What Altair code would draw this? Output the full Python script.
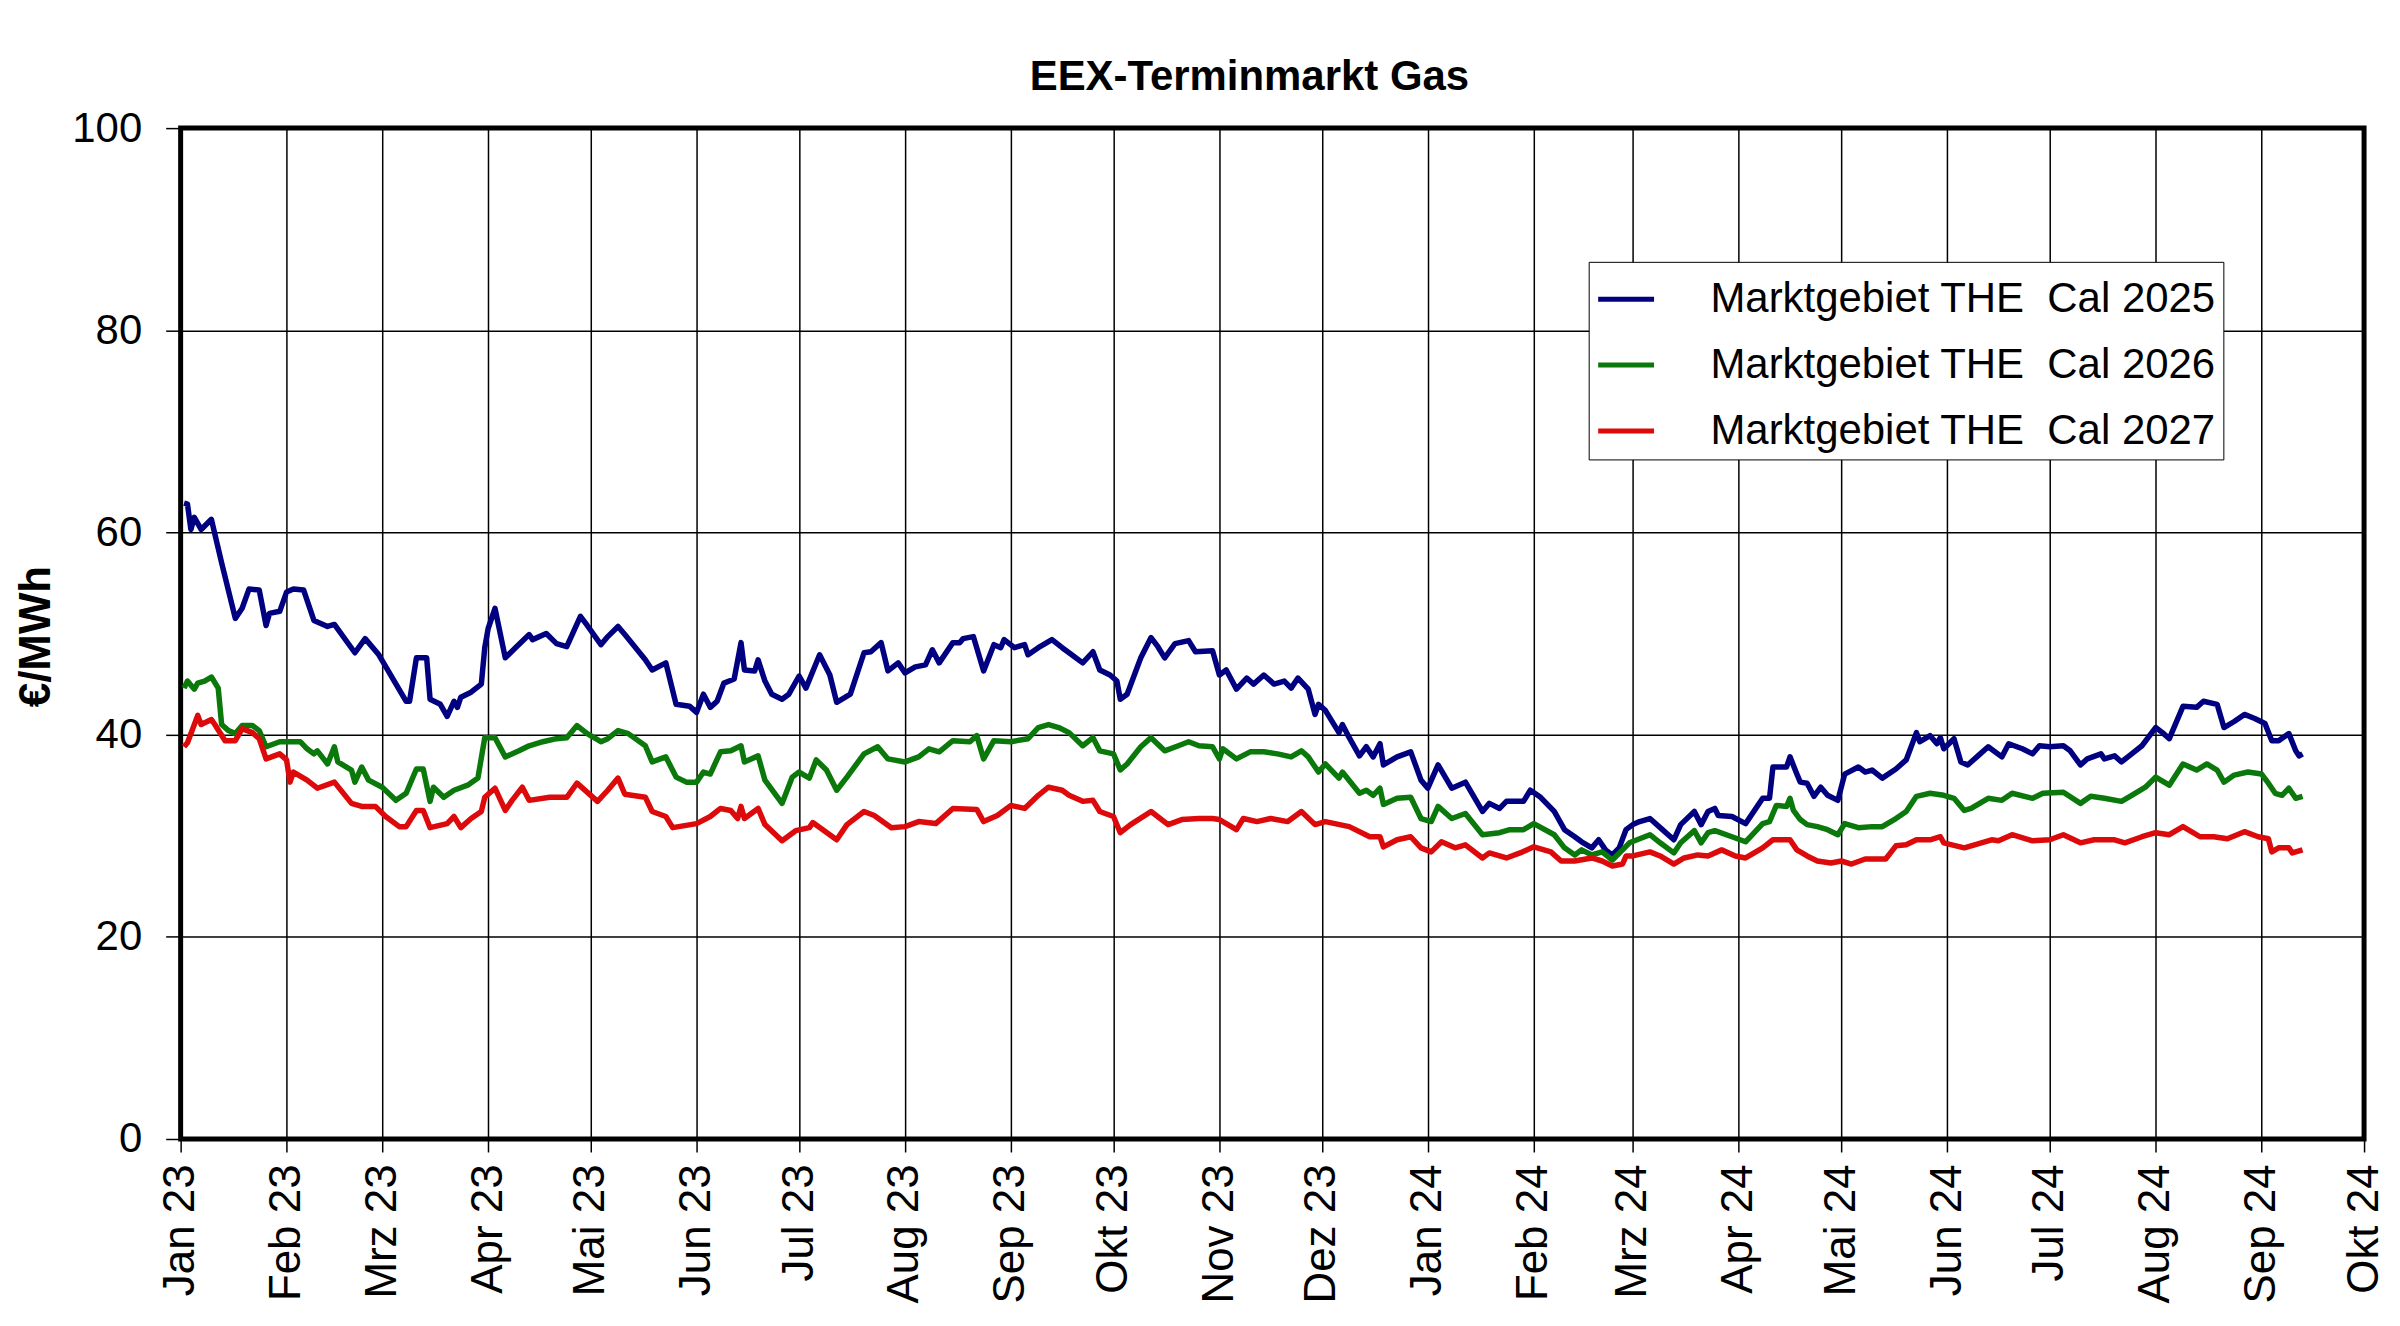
import altair as alt
import pandas as pd

TITLE = "EEX-Terminmarkt Gas"
Y_TITLE = "€/MWh"
SERIES_NAMES = [
    "Marktgebiet THE\u00a0 Cal 2025",
    "Marktgebiet THE\u00a0 Cal 2026",
    "Marktgebiet THE\u00a0 Cal 2027",
]
COLORS = ["#000080", "#0a780a", "#dc0a0a"]
MONTHS = ["Jan", "Feb", "Mrz", "Apr", "Mai", "Jun", "Jul", "Aug", "Sep", "Okt", "Nov", "Dez"]
Y_TICKS = [0, 20, 40, 60, 80, 100]

CAL2025 = [
    ("2023-01-02", 62.9), ("2023-01-03", 62.8), ("2023-01-04", 60.3), ("2023-01-05", 61.5),
    ("2023-01-07", 60.3), ("2023-01-10", 61.3), ("2023-01-13", 57.0), ("2023-01-17", 51.5),
    ("2023-01-19", 52.5), ("2023-01-21", 54.4), ("2023-01-24", 54.3), ("2023-01-26", 50.8),
    ("2023-01-27", 52.0), ("2023-01-30", 52.2), ("2023-02-01", 54.1), ("2023-02-03", 54.4),
    ("2023-02-06", 54.3), ("2023-02-09", 51.3), ("2023-02-13", 50.7), ("2023-02-15", 50.9),
    ("2023-02-21", 48.1), ("2023-02-24", 49.5), ("2023-02-28", 47.9), ("2023-03-08", 43.3),
    ("2023-03-09", 43.3), ("2023-03-11", 47.6), ("2023-03-14", 47.6), ("2023-03-15", 43.5),
    ("2023-03-18", 43.0), ("2023-03-20", 41.8), ("2023-03-22", 43.3), ("2023-03-23", 42.7),
    ("2023-03-24", 43.7), ("2023-03-27", 44.2), ("2023-03-30", 45.0), ("2023-03-31", 48.6),
    ("2023-04-01", 50.5), ("2023-04-03", 52.5), ("2023-04-06", 47.6), ("2023-04-09", 48.6),
    ("2023-04-13", 49.9), ("2023-04-14", 49.4), ("2023-04-18", 50.0), ("2023-04-21", 49.0),
    ("2023-04-24", 48.7), ("2023-04-28", 51.7), ("2023-04-30", 50.8), ("2023-05-04", 48.9),
    ("2023-05-06", 49.7), ("2023-05-09", 50.7), ("2023-05-11", 49.9), ("2023-05-17", 47.4),
    ("2023-05-19", 46.4), ("2023-05-23", 47.1), ("2023-05-26", 43.0), ("2023-05-30", 42.8),
    ("2023-06-01", 42.2), ("2023-06-03", 44.0), ("2023-06-05", 42.7), ("2023-06-07", 43.3),
    ("2023-06-09", 45.1), ("2023-06-12", 45.5), ("2023-06-14", 49.1), ("2023-06-15", 46.4),
    ("2023-06-18", 46.3), ("2023-06-19", 47.4), ("2023-06-21", 45.3), ("2023-06-23", 44.0),
    ("2023-06-26", 43.5), ("2023-06-28", 44.0), ("2023-07-01", 45.8), ("2023-07-03", 44.6),
    ("2023-07-07", 47.9), ("2023-07-10", 45.9), ("2023-07-12", 43.2), ("2023-07-16", 44.0),
    ("2023-07-20", 48.1), ("2023-07-22", 48.2), ("2023-07-25", 49.1), ("2023-07-27", 46.3),
    ("2023-07-30", 47.1), ("2023-08-01", 46.1), ("2023-08-04", 46.7), ("2023-08-07", 46.9),
    ("2023-08-09", 48.4), ("2023-08-11", 47.1), ("2023-08-15", 49.1), ("2023-08-17", 49.1),
    ("2023-08-18", 49.5), ("2023-08-21", 49.7), ("2023-08-24", 46.3), ("2023-08-27", 48.9),
    ("2023-08-29", 48.6), ("2023-08-30", 49.4), ("2023-09-02", 48.6), ("2023-09-05", 48.9),
    ("2023-09-06", 47.9), ("2023-09-09", 48.6), ("2023-09-13", 49.4), ("2023-09-16", 48.6),
    ("2023-09-18", 48.1), ("2023-09-22", 47.1), ("2023-09-25", 48.2), ("2023-09-27", 46.4),
    ("2023-09-30", 45.9), ("2023-10-02", 45.3), ("2023-10-03", 43.5), ("2023-10-05", 44.0),
    ("2023-10-09", 47.6), ("2023-10-12", 49.6), ("2023-10-14", 48.7), ("2023-10-16", 47.6),
    ("2023-10-19", 49.0), ("2023-10-23", 49.3), ("2023-10-25", 48.2), ("2023-10-30", 48.3),
    ("2023-11-01", 45.9), ("2023-11-03", 46.4), ("2023-11-06", 44.5), ("2023-11-09", 45.6),
    ("2023-11-11", 45.0), ("2023-11-14", 45.9), ("2023-11-17", 45.0), ("2023-11-20", 45.3),
    ("2023-11-22", 44.6), ("2023-11-24", 45.6), ("2023-11-27", 44.5), ("2023-11-29", 42.0),
    ("2023-11-30", 43.0), ("2023-12-02", 42.4), ("2023-12-06", 40.2), ("2023-12-07", 41.0),
    ("2023-12-09", 39.7), ("2023-12-12", 37.9), ("2023-12-14", 38.8), ("2023-12-16", 37.8),
    ("2023-12-18", 39.1), ("2023-12-19", 37.0), ("2023-12-23", 37.8), ("2023-12-27", 38.3),
    ("2023-12-30", 35.5), ("2024-01-01", 34.7), ("2024-01-04", 37.0), ("2024-01-08", 34.7),
    ("2024-01-12", 35.3), ("2024-01-17", 32.4), ("2024-01-19", 33.2), ("2024-01-22", 32.7),
    ("2024-01-24", 33.4), ("2024-01-29", 33.4), ("2024-01-31", 34.5), ("2024-02-03", 33.8),
    ("2024-02-07", 32.4), ("2024-02-10", 30.6), ("2024-02-13", 29.9), ("2024-02-15", 29.4),
    ("2024-02-18", 28.8), ("2024-02-20", 29.6), ("2024-02-22", 28.6), ("2024-02-24", 28.1),
    ("2024-02-26", 28.8), ("2024-02-28", 30.6), ("2024-03-01", 31.1), ("2024-03-03", 31.4),
    ("2024-03-06", 31.7), ("2024-03-09", 30.8), ("2024-03-13", 29.6), ("2024-03-15", 31.1),
    ("2024-03-19", 32.4), ("2024-03-21", 31.1), ("2024-03-23", 32.4), ("2024-03-25", 32.7),
    ("2024-03-26", 32.0), ("2024-03-30", 31.9), ("2024-04-03", 31.2), ("2024-04-08", 33.7),
    ("2024-04-10", 33.7), ("2024-04-11", 36.8), ("2024-04-15", 36.8), ("2024-04-16", 37.8),
    ("2024-04-18", 36.1), ("2024-04-19", 35.3), ("2024-04-21", 35.2), ("2024-04-23", 33.9),
    ("2024-04-25", 34.8), ("2024-04-27", 34.0), ("2024-04-30", 33.5), ("2024-05-02", 36.1),
    ("2024-05-06", 36.8), ("2024-05-08", 36.3), ("2024-05-10", 36.5), ("2024-05-13", 35.7),
    ("2024-05-17", 36.6), ("2024-05-20", 37.5), ("2024-05-23", 40.2), ("2024-05-24", 39.3),
    ("2024-05-27", 39.9), ("2024-05-29", 39.1), ("2024-05-30", 39.7), ("2024-05-31", 38.6),
    ("2024-06-03", 39.6), ("2024-06-05", 37.3), ("2024-06-07", 37.0), ("2024-06-10", 37.9),
    ("2024-06-13", 38.8), ("2024-06-17", 37.8), ("2024-06-19", 39.1), ("2024-06-23", 38.6),
    ("2024-06-26", 38.1), ("2024-06-28", 38.9), ("2024-07-01", 38.8), ("2024-07-05", 38.9),
    ("2024-07-07", 38.4), ("2024-07-10", 37.0), ("2024-07-12", 37.6), ("2024-07-16", 38.1),
    ("2024-07-17", 37.6), ("2024-07-20", 37.9), ("2024-07-22", 37.3), ("2024-07-25", 38.1),
    ("2024-07-28", 38.9), ("2024-08-01", 40.7), ("2024-08-03", 40.2), ("2024-08-05", 39.6),
    ("2024-08-09", 42.8), ("2024-08-13", 42.7), ("2024-08-15", 43.3), ("2024-08-19", 43.0),
    ("2024-08-21", 40.7), ("2024-08-24", 41.3), ("2024-08-27", 42.0), ("2024-08-30", 41.6),
    ("2024-09-02", 41.1), ("2024-09-04", 39.4), ("2024-09-06", 39.4), ("2024-09-09", 40.1),
    ("2024-09-11", 38.4), ("2024-09-12", 37.9), ("2024-09-13", 38.1),
]

CAL2026 = [
    ("2023-01-02", 44.6), ("2023-01-03", 45.3), ("2023-01-05", 44.5), ("2023-01-06", 45.1),
    ("2023-01-08", 45.3), ("2023-01-10", 45.7), ("2023-01-12", 44.6), ("2023-01-13", 41.0),
    ("2023-01-15", 40.4), ("2023-01-17", 40.1), ("2023-01-19", 40.9), ("2023-01-22", 40.9),
    ("2023-01-24", 40.4), ("2023-01-26", 38.8), ("2023-01-30", 39.3), ("2023-02-05", 39.3),
    ("2023-02-07", 38.6), ("2023-02-09", 38.1), ("2023-02-10", 38.4), ("2023-02-13", 37.1),
    ("2023-02-15", 38.8), ("2023-02-16", 37.3), ("2023-02-20", 36.5), ("2023-02-21", 35.3),
    ("2023-02-23", 36.8), ("2023-02-25", 35.5), ("2023-03-01", 34.8), ("2023-03-05", 33.5),
    ("2023-03-08", 34.2), ("2023-03-11", 36.6), ("2023-03-13", 36.6), ("2023-03-15", 33.4),
    ("2023-03-16", 34.8), ("2023-03-19", 33.8), ("2023-03-22", 34.5), ("2023-03-26", 35.0),
    ("2023-03-29", 35.7), ("2023-03-31", 39.7), ("2023-04-03", 39.7), ("2023-04-06", 37.8),
    ("2023-04-10", 38.4), ("2023-04-13", 38.9), ("2023-04-17", 39.3), ("2023-04-21", 39.6),
    ("2023-04-24", 39.7), ("2023-04-27", 40.9), ("2023-04-30", 40.1), ("2023-05-04", 39.3),
    ("2023-05-06", 39.6), ("2023-05-09", 40.4), ("2023-05-12", 40.1), ("2023-05-17", 38.9),
    ("2023-05-19", 37.3), ("2023-05-23", 37.8), ("2023-05-26", 35.8), ("2023-05-29", 35.3),
    ("2023-06-01", 35.3), ("2023-06-03", 36.3), ("2023-06-05", 36.1), ("2023-06-08", 38.3),
    ("2023-06-11", 38.4), ("2023-06-14", 38.9), ("2023-06-15", 37.3), ("2023-06-19", 37.9),
    ("2023-06-21", 35.5), ("2023-06-26", 33.2), ("2023-06-29", 35.8), ("2023-07-01", 36.3),
    ("2023-07-04", 35.7), ("2023-07-06", 37.5), ("2023-07-09", 36.5), ("2023-07-12", 34.5),
    ("2023-07-15", 35.8), ("2023-07-20", 38.1), ("2023-07-24", 38.8), ("2023-07-27", 37.6),
    ("2023-08-01", 37.3), ("2023-08-05", 37.8), ("2023-08-08", 38.6), ("2023-08-11", 38.3),
    ("2023-08-15", 39.4), ("2023-08-20", 39.3), ("2023-08-22", 39.9), ("2023-08-24", 37.6),
    ("2023-08-27", 39.4), ("2023-09-01", 39.3), ("2023-09-06", 39.6), ("2023-09-09", 40.7),
    ("2023-09-12", 41.0), ("2023-09-15", 40.7), ("2023-09-18", 40.2), ("2023-09-22", 38.9),
    ("2023-09-25", 39.7), ("2023-09-27", 38.4), ("2023-10-01", 38.1), ("2023-10-03", 36.5),
    ("2023-10-05", 37.1), ("2023-10-09", 38.8), ("2023-10-12", 39.7), ("2023-10-16", 38.4),
    ("2023-10-20", 38.9), ("2023-10-23", 39.3), ("2023-10-26", 38.9), ("2023-10-30", 38.8),
    ("2023-11-01", 37.6), ("2023-11-02", 38.6), ("2023-11-06", 37.6), ("2023-11-10", 38.3),
    ("2023-11-14", 38.3), ("2023-11-18", 38.1), ("2023-11-22", 37.8), ("2023-11-25", 38.4),
    ("2023-11-27", 37.8), ("2023-11-30", 36.3), ("2023-12-02", 37.1), ("2023-12-06", 35.7),
    ("2023-12-07", 36.3), ("2023-12-12", 34.2), ("2023-12-14", 34.5), ("2023-12-16", 34.0),
    ("2023-12-18", 34.7), ("2023-12-19", 33.1), ("2023-12-23", 33.7), ("2023-12-27", 33.8),
    ("2023-12-30", 31.7), ("2024-01-02", 31.4), ("2024-01-04", 32.9), ("2024-01-08", 31.7),
    ("2024-01-12", 32.2), ("2024-01-17", 30.1), ("2024-01-22", 30.3), ("2024-01-25", 30.6),
    ("2024-01-29", 30.6), ("2024-02-01", 31.2), ("2024-02-07", 30.1), ("2024-02-10", 28.8),
    ("2024-02-13", 28.1), ("2024-02-15", 28.6), ("2024-02-18", 28.1), ("2024-02-21", 28.4),
    ("2024-02-24", 27.6), ("2024-02-27", 28.6), ("2024-02-29", 29.3), ("2024-03-06", 30.1),
    ("2024-03-09", 29.3), ("2024-03-13", 28.3), ("2024-03-15", 29.3), ("2024-03-19", 30.5),
    ("2024-03-21", 29.3), ("2024-03-23", 30.3), ("2024-03-25", 30.5), ("2024-03-30", 29.9),
    ("2024-04-03", 29.4), ("2024-04-08", 31.2), ("2024-04-10", 31.4), ("2024-04-12", 33.0),
    ("2024-04-15", 32.9), ("2024-04-16", 33.7), ("2024-04-17", 32.5), ("2024-04-19", 31.6),
    ("2024-04-21", 31.1), ("2024-04-24", 30.9), ("2024-04-27", 30.6), ("2024-04-30", 30.1),
    ("2024-05-02", 31.2), ("2024-05-06", 30.8), ("2024-05-10", 30.9), ("2024-05-13", 30.9),
    ("2024-05-17", 31.7), ("2024-05-20", 32.4), ("2024-05-23", 33.9), ("2024-05-27", 34.2),
    ("2024-05-31", 34.0), ("2024-06-03", 33.7), ("2024-06-06", 32.5), ("2024-06-08", 32.7),
    ("2024-06-13", 33.7), ("2024-06-17", 33.5), ("2024-06-20", 34.2), ("2024-06-26", 33.7),
    ("2024-06-29", 34.2), ("2024-07-05", 34.3), ("2024-07-10", 33.2), ("2024-07-13", 33.9),
    ("2024-07-17", 33.7), ("2024-07-22", 33.4), ("2024-07-25", 34.0), ("2024-07-29", 34.8),
    ("2024-08-01", 35.8), ("2024-08-05", 35.0), ("2024-08-09", 37.1), ("2024-08-13", 36.5),
    ("2024-08-16", 37.1), ("2024-08-19", 36.5), ("2024-08-21", 35.3), ("2024-08-24", 36.0),
    ("2024-08-28", 36.3), ("2024-09-01", 36.1), ("2024-09-03", 35.2), ("2024-09-05", 34.2),
    ("2024-09-07", 34.0), ("2024-09-09", 34.7), ("2024-09-11", 33.7), ("2024-09-13", 33.9),
]

CAL2027 = [
    ("2023-01-02", 38.8), ("2023-01-03", 39.2), ("2023-01-06", 41.9), ("2023-01-07", 41.0),
    ("2023-01-10", 41.5), ("2023-01-11", 41.0), ("2023-01-14", 39.4), ("2023-01-17", 39.4),
    ("2023-01-19", 40.6), ("2023-01-22", 40.2), ("2023-01-24", 39.6), ("2023-01-26", 37.6),
    ("2023-01-30", 38.1), ("2023-02-01", 37.5), ("2023-02-02", 35.3), ("2023-02-03", 36.3),
    ("2023-02-07", 35.5), ("2023-02-10", 34.7), ("2023-02-15", 35.3), ("2023-02-20", 33.2),
    ("2023-02-23", 32.9), ("2023-02-27", 32.9), ("2023-03-02", 31.9), ("2023-03-06", 30.9),
    ("2023-03-08", 30.9), ("2023-03-11", 32.5), ("2023-03-13", 32.5), ("2023-03-15", 30.8),
    ("2023-03-20", 31.2), ("2023-03-22", 31.9), ("2023-03-24", 30.8), ("2023-03-27", 31.7),
    ("2023-03-30", 32.4), ("2023-03-31", 33.8), ("2023-04-03", 34.7), ("2023-04-06", 32.5),
    ("2023-04-08", 33.5), ("2023-04-11", 34.8), ("2023-04-13", 33.5), ("2023-04-19", 33.8),
    ("2023-04-24", 33.8), ("2023-04-27", 35.2), ("2023-05-03", 33.4), ("2023-05-06", 34.5),
    ("2023-05-09", 35.7), ("2023-05-11", 34.1), ("2023-05-17", 33.8), ("2023-05-19", 32.4),
    ("2023-05-23", 31.9), ("2023-05-25", 30.8), ("2023-06-01", 31.2), ("2023-06-05", 31.9),
    ("2023-06-08", 32.7), ("2023-06-11", 32.5), ("2023-06-13", 31.7), ("2023-06-14", 32.9),
    ("2023-06-15", 31.7), ("2023-06-19", 32.7), ("2023-06-21", 31.1), ("2023-06-26", 29.5),
    ("2023-06-30", 30.5), ("2023-07-04", 30.8), ("2023-07-05", 31.3), ("2023-07-12", 29.6),
    ("2023-07-15", 31.1), ("2023-07-20", 32.4), ("2023-07-23", 32.0), ("2023-07-28", 30.8),
    ("2023-08-01", 30.9), ("2023-08-05", 31.4), ("2023-08-10", 31.2), ("2023-08-15", 32.7),
    ("2023-08-22", 32.6), ("2023-08-24", 31.4), ("2023-08-28", 32.0), ("2023-09-01", 33.0),
    ("2023-09-05", 32.7), ("2023-09-09", 34.0), ("2023-09-12", 34.8), ("2023-09-16", 34.5),
    ("2023-09-18", 34.0), ("2023-09-22", 33.4), ("2023-09-25", 33.5), ("2023-09-27", 32.4),
    ("2023-10-01", 31.9), ("2023-10-03", 30.3), ("2023-10-06", 31.1), ("2023-10-12", 32.4),
    ("2023-10-17", 31.1), ("2023-10-21", 31.6), ("2023-10-26", 31.7), ("2023-10-30", 31.7),
    ("2023-11-01", 31.6), ("2023-11-06", 30.6), ("2023-11-08", 31.7), ("2023-11-12", 31.4),
    ("2023-11-16", 31.7), ("2023-11-21", 31.4), ("2023-11-25", 32.4), ("2023-11-29", 31.1),
    ("2023-12-02", 31.4), ("2023-12-09", 30.9), ("2023-12-15", 29.9), ("2023-12-18", 29.9),
    ("2023-12-19", 28.9), ("2023-12-23", 29.6), ("2023-12-27", 29.9), ("2023-12-30", 28.8),
    ("2024-01-02", 28.4), ("2024-01-05", 29.4), ("2024-01-09", 28.8), ("2024-01-12", 29.1),
    ("2024-01-17", 27.8), ("2024-01-19", 28.3), ("2024-01-24", 27.8), ("2024-01-28", 28.3),
    ("2024-02-01", 28.9), ("2024-02-06", 28.4), ("2024-02-09", 27.5), ("2024-02-13", 27.5),
    ("2024-02-18", 27.8), ("2024-02-21", 27.5), ("2024-02-24", 27.0), ("2024-02-27", 27.2),
    ("2024-02-28", 28.0), ("2024-03-01", 28.0), ("2024-03-06", 28.4), ("2024-03-09", 28.0),
    ("2024-03-13", 27.2), ("2024-03-16", 27.8), ("2024-03-20", 28.1), ("2024-03-23", 28.0),
    ("2024-03-27", 28.6), ("2024-03-31", 28.0), ("2024-04-03", 27.8), ("2024-04-08", 28.8),
    ("2024-04-11", 29.6), ("2024-04-16", 29.6), ("2024-04-18", 28.6), ("2024-04-21", 28.0),
    ("2024-04-24", 27.5), ("2024-04-28", 27.3), ("2024-05-01", 27.5), ("2024-05-04", 27.2),
    ("2024-05-08", 27.7), ("2024-05-14", 27.7), ("2024-05-17", 29.0), ("2024-05-20", 29.1),
    ("2024-05-23", 29.6), ("2024-05-27", 29.6), ("2024-05-30", 29.9), ("2024-05-31", 29.3),
    ("2024-06-06", 28.8), ("2024-06-11", 29.3), ("2024-06-14", 29.6), ("2024-06-16", 29.5),
    ("2024-06-20", 30.1), ("2024-06-26", 29.5), ("2024-07-01", 29.6), ("2024-07-05", 30.1),
    ("2024-07-10", 29.3), ("2024-07-14", 29.6), ("2024-07-20", 29.6), ("2024-07-23", 29.3),
    ("2024-07-28", 29.9), ("2024-08-01", 30.3), ("2024-08-05", 30.1), ("2024-08-09", 30.9),
    ("2024-08-14", 29.9), ("2024-08-18", 29.9), ("2024-08-22", 29.7), ("2024-08-27", 30.4),
    ("2024-08-31", 29.9), ("2024-09-03", 29.7), ("2024-09-04", 28.4), ("2024-09-06", 28.8),
    ("2024-09-09", 28.8), ("2024-09-10", 28.3), ("2024-09-13", 28.6),
]

rows = []
for name, series in zip(SERIES_NAMES, [CAL2025, CAL2026, CAL2027]):
    for d, v in series:
        rows.append({"date": d, "price": v, "series": name})
df = pd.DataFrame(rows)

month_values = [alt.DateTime(year=2023 + (i // 12), month=(i % 12) + 1, date=1, utc=True) for i in range(22)]
month_array = "[" + ",".join("'" + m + "'" for m in MONTHS) + "]"
label_expr = month_array + "[utcmonth(datum.value)] + ' ' + utcFormat(datum.value, '%y')"

FONT = "Liberation Sans"

lines = alt.Chart(df).mark_line(strokeWidth=5.5, strokeJoin="round").encode(
    x=alt.X(
        "date:T",
        title=None,
        scale=alt.Scale(
            type="utc",
            domain=[alt.DateTime(year=2023, month=1, date=1, utc=True),
                    alt.DateTime(year=2024, month=10, date=1, utc=True)],
        ),
        axis=alt.Axis(
            values=month_values,
            labelExpr=label_expr,
            labelAngle=270,
            labelAlign="right",
            labelBaseline="middle",
            labelFont=FONT,
            labelFontSize=44,
            labelColor="black",
            labelPadding=12,
            labelOverlap=False,
            labelFlush=False,
            labelBound=False,
            tickSize=13,
            tickColor="black",
            tickWidth=1.5,
            grid=True,
            gridColor="black",
            gridWidth=1.5,
            gridOpacity=1,
            domain=False,
        ),
    ),
    y=alt.Y(
        "price:Q",
        scale=alt.Scale(domain=[0, 100], nice=False),
        axis=alt.Axis(
            values=Y_TICKS,
            title=Y_TITLE,
            titleFont=FONT,
            titleFontSize=44,
            titleFontWeight="bold",
            titleColor="black",
            titleAngle=270,
            titleAlign="center",
            titleBaseline="middle",
            titleX=-144,
            titleY=509,
            labelFont=FONT,
            labelFontSize=42,
            labelColor="black",
            labelPadding=24,
            tickSize=15,
            tickColor="black",
            tickWidth=1.5,
            grid=True,
            gridColor="black",
            gridWidth=1.5,
            gridOpacity=1,
            domain=False,
        ),
    ),
    color=alt.Color(
        "series:N",
        title=None,
        scale=alt.Scale(domain=SERIES_NAMES, range=COLORS),
        legend=alt.Legend(
            orient="none",
            legendX=1411,
            legendY=134,
            symbolType="stroke",
            symbolSize=3136,
            symbolStrokeWidth=5,
            labelFont=FONT,
            labelFontSize=42,
            labelColor="black",
            labelOffset=54,
            labelLimit=800,
            rowPadding=14,
            padding=7,
            strokeColor="black",
            fillColor="white",
        ),
    ),
)

title_text = alt.Chart(pd.DataFrame({"t": [TITLE]})).mark_text(
    font=FONT,
    fontSize=42,
    fontWeight="bold",
    color="black",
    align="center",
    baseline="alphabetic",
).encode(
    text="t:N",
    x=alt.value(1071),
    y=alt.value(-38),
)

chart = alt.layer(lines, title_text).properties(
    width=2188,
    height=1013,
    autosize=alt.AutoSizeParams(type="none"),
    padding={"left": 173, "top": 119, "right": 28, "bottom": 170},
).configure(
    background="white",
    view=alt.ViewConfig(stroke="black", strokeWidth=5),
)

chart.save("out.html", embed_options={"renderer": "svg", "actions": False})
